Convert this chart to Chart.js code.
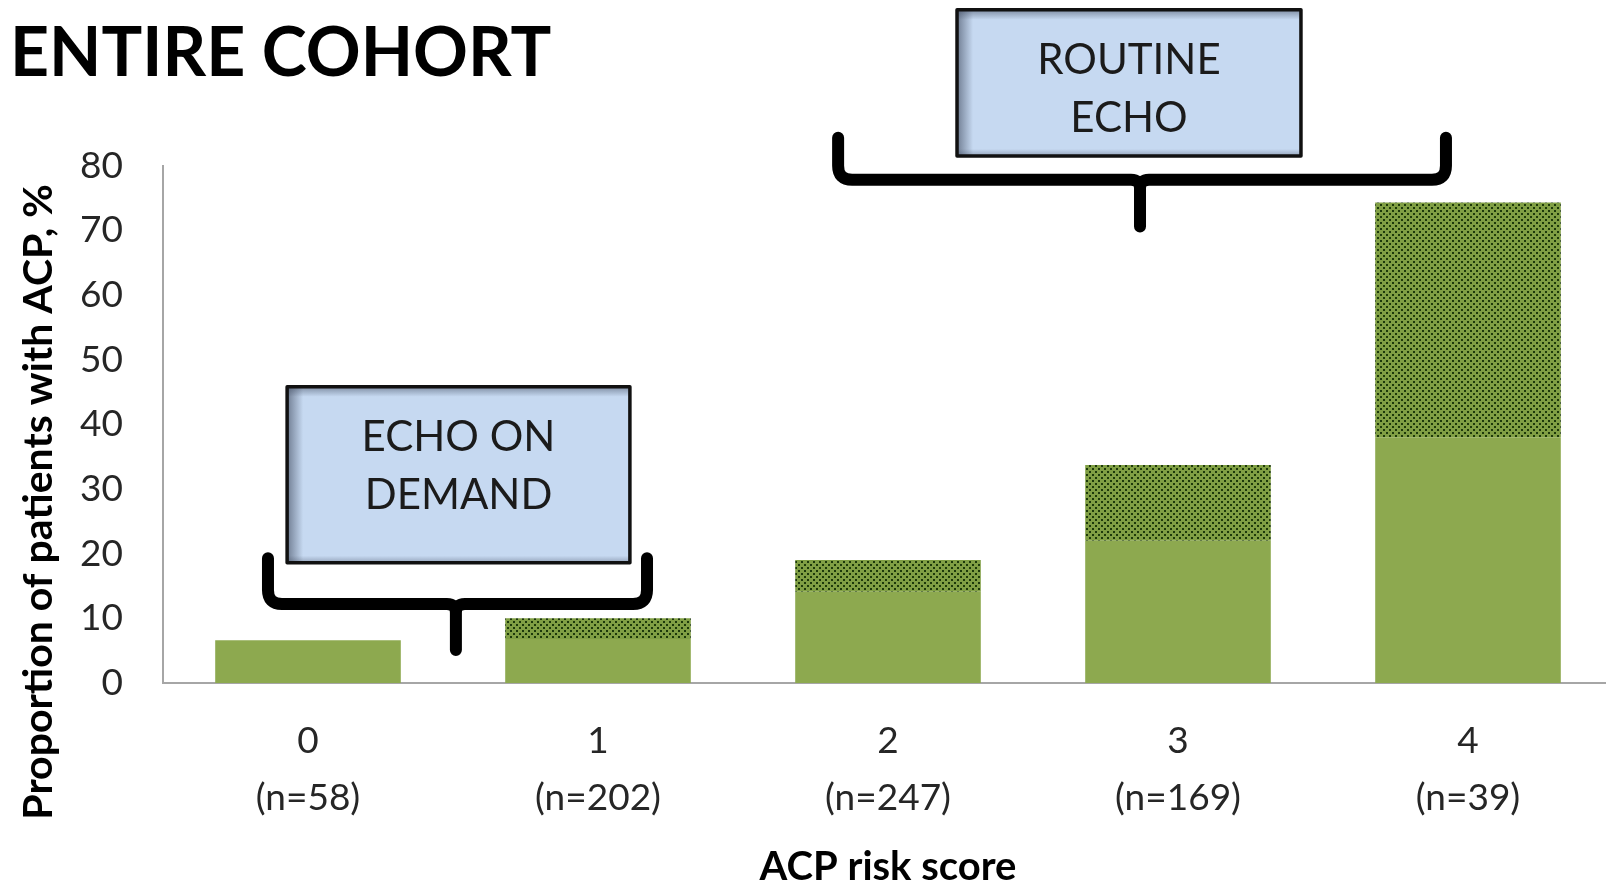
<!DOCTYPE html>
<html>
<head>
<meta charset="utf-8">
<script src="https://cdn.jsdelivr.net/npm/chart.js@4.4.0/dist/chart.umd.min.js"></script>
<style>
  html, body { margin: 0; padding: 0; background: #fff; overflow: hidden; }
  #wrap { width: 1618px; height: 884px; }
</style>
</head>
<body>
<div id="wrap"><canvas id="grafico" width="1618" height="884"></canvas></div>
<script>
// === DADOS ===
const riskScores = ["0", "1", "2", "3", "4"];
const cohortSizes = ["(n=58)", "(n=202)", "(n=247)", "(n=169)", "(n=39)"];
const acpBase = [6.6, 6.8, 14.1, 22.0, 38.0];   // parte lisa
const acpExtra = [0, 3.2, 4.9, 11.7, 36.3];     // parte pontilhada, empilhada
const yTicks = [0, 10, 20, 30, 40, 50, 60, 70, 80];
const yTitle = "Proportion of patients with ACP, %";

// caixas + chaves, em unidades das escalas (x = indice da categoria, y = %)
const callouts = [
  { lines: ["ECHO ON", "DEMAND"], box: [-0.072, 1.110, 45.8, 18.6],
    brace: { from: -0.138, to: 1.169, top: 19.3, bar: 12.2, stem: 0.51, tip: 5.1 } },
  { lines: ["ROUTINE", "ECHO"], box: [2.238, 3.424, 104.1, 81.5],
    brace: { from: 1.828, to: 3.924, top: 84.3, bar: 77.8, stem: 2.869, tip: 70.6 } }
];

// === PADRAO PONTILHADO ===
function padraoPontilhado() {
  const c = document.createElement("canvas");
  c.width = 6; c.height = 6;
  const g = c.getContext("2d");
  g.fillStyle = "#809f44";
  g.fillRect(0, 0, 6, 6);
  g.fillStyle = "#1d3a0a";
  g.fillRect(0, 0, 2, 2);
  g.fillRect(3, 3, 2, 2);
  return g.createPattern(c, "repeat");
}

// === PLUGIN: titulo do eixo y + caixas ===
const calloutPlugin = {
  id: "callouts",
  afterDraw(chart) {
    const { ctx, scales: { x, y } } = chart;

    // titulo do eixo y (deslocado para baixo, como no original)
    ctx.save();
    ctx.translate(39, y.getPixelForValue(28));
    ctx.rotate(-Math.PI / 2);
    ctx.fillStyle = "#000";
    ctx.font = "bold 41px Lato";
    ctx.textAlign = "center";
    ctx.textBaseline = "middle";
    ctx.fillText(yTitle, 0, 0);
    ctx.restore();

    callouts.forEach(c => {
      // chave
      const b = c.brace;
      const x1 = x.getPixelForValue(b.from), x2 = x.getPixelForValue(b.to);
      const xm = x.getPixelForValue(b.stem);
      const yt = y.getPixelForValue(b.top), yh = y.getPixelForValue(b.bar);
      const yb = y.getPixelForValue(b.tip);
      const r = 14, f = 9;
      ctx.save();
      ctx.strokeStyle = "#000";
      ctx.lineWidth = 12;
      ctx.lineJoin = "round";
      ctx.lineCap = "round";
      ctx.beginPath();
      ctx.moveTo(x1, yt);
      ctx.lineTo(x1, yh - r);
      ctx.quadraticCurveTo(x1, yh, x1 + r, yh);
      ctx.lineTo(xm - f, yh);
      ctx.quadraticCurveTo(xm, yh, xm, yh + f);
      ctx.lineTo(xm, yb);
      ctx.moveTo(xm, yh + f);
      ctx.quadraticCurveTo(xm, yh, xm + f, yh);
      ctx.lineTo(x2 - r, yh);
      ctx.quadraticCurveTo(x2, yh, x2, yh - r);
      ctx.lineTo(x2, yt);
      ctx.stroke();

      // caixa
      const bx0 = x.getPixelForValue(c.box[0]), bx1 = x.getPixelForValue(c.box[1]);
      const by0 = y.getPixelForValue(c.box[2]), by1 = y.getPixelForValue(c.box[3]);
      const w = bx1 - bx0, h = by1 - by0;
      ctx.fillStyle = "#c6d9f1";
      ctx.fillRect(bx0, by0, w, h);
      let gr = ctx.createLinearGradient(bx0, 0, bx0 + 16, 0);
      gr.addColorStop(0, "rgba(55,65,85,0.6)");
      gr.addColorStop(1, "rgba(55,65,85,0)");
      ctx.fillStyle = gr;
      ctx.fillRect(bx0, by0, 16, h);
      gr = ctx.createLinearGradient(0, by0, 0, by0 + 10);
      gr.addColorStop(0, "rgba(55,65,85,0.5)");
      gr.addColorStop(1, "rgba(55,65,85,0)");
      ctx.fillStyle = gr;
      ctx.fillRect(bx0, by0, w, 10);
      gr = ctx.createLinearGradient(0, by1, 0, by1 - 7);
      gr.addColorStop(0, "rgba(55,65,85,0.35)");
      gr.addColorStop(1, "rgba(55,65,85,0)");
      ctx.fillStyle = gr;
      ctx.fillRect(bx0, by1 - 7, w, 7);
      ctx.lineWidth = 3.5;
      ctx.strokeStyle = "#111";
      ctx.strokeRect(bx0, by0, w, h);

      ctx.fillStyle = "#1b1b1b";
      ctx.font = "42px Lato";
      ctx.textAlign = "center";
      ctx.textBaseline = "middle";
      c.lines.forEach((t, i) => ctx.fillText(t, bx0 + w / 2, by0 + 51 + i * 58));
      ctx.restore();
    });
  }
};

// === GRAFICO ===
const pontilhado = padraoPontilhado();

new Chart(document.getElementById("grafico"), {
  type: "bar",
  data: {
    labels: riskScores.map((s, i) => [s, cohortSizes[i]]),
    datasets: [
      { label: "base", data: acpBase, backgroundColor: "#8da94f" },
      { label: "extra", data: acpExtra, backgroundColor: pontilhado }
    ]
  },
  options: {
    responsive: false,
    animation: false,
    layout: { padding: { left: 10, right: 5, top: 0, bottom: 0 } },
    datasets: { bar: { categoryPercentage: 1, barPercentage: 0.64 } },
    plugins: {
      legend: { display: false },
      tooltip: { enabled: false },
      title: {
        display: true,
        text: "ENTIRE COHORT",
        align: "start",
        color: "#000",
        font: { family: "Lato", size: 68, weight: "bold" },
        padding: { top: 13, bottom: 71 }
      }
    },
    scales: {
      x: {
        stacked: true,
        grid: { display: false, drawTicks: false },
        border: { display: true, color: "#a6a6a6", width: 2 },
        afterFit: s => { s.height = 201; },
        ticks: {
          color: "#262626",
          padding: 29,
          maxRotation: 0,
          autoSkip: false,
          font: { family: "Lato", size: 37, lineHeight: 1.55 }
        },
        title: {
          display: true,
          text: "ACP risk score",
          color: "#000",
          font: { family: "Lato", size: 40, weight: "bold" },
          padding: { top: 10, bottom: -7 }
        }
      },
      y: {
        stacked: true,
        min: 0,
        max: 80,
        afterBuildTicks: axis => { axis.ticks = yTicks.map(v => ({ value: v })); },
        afterFit: s => { s.width = 153; },
        grid: { display: false, drawTicks: false },
        border: { display: true, color: "#a6a6a6", width: 2 },
        ticks: {
          color: "#262626",
          padding: 40,
          font: { family: "Lato", size: 37 }
        }
      }
    }
  },
  plugins: [calloutPlugin]
});
</script>
</body>
</html>
